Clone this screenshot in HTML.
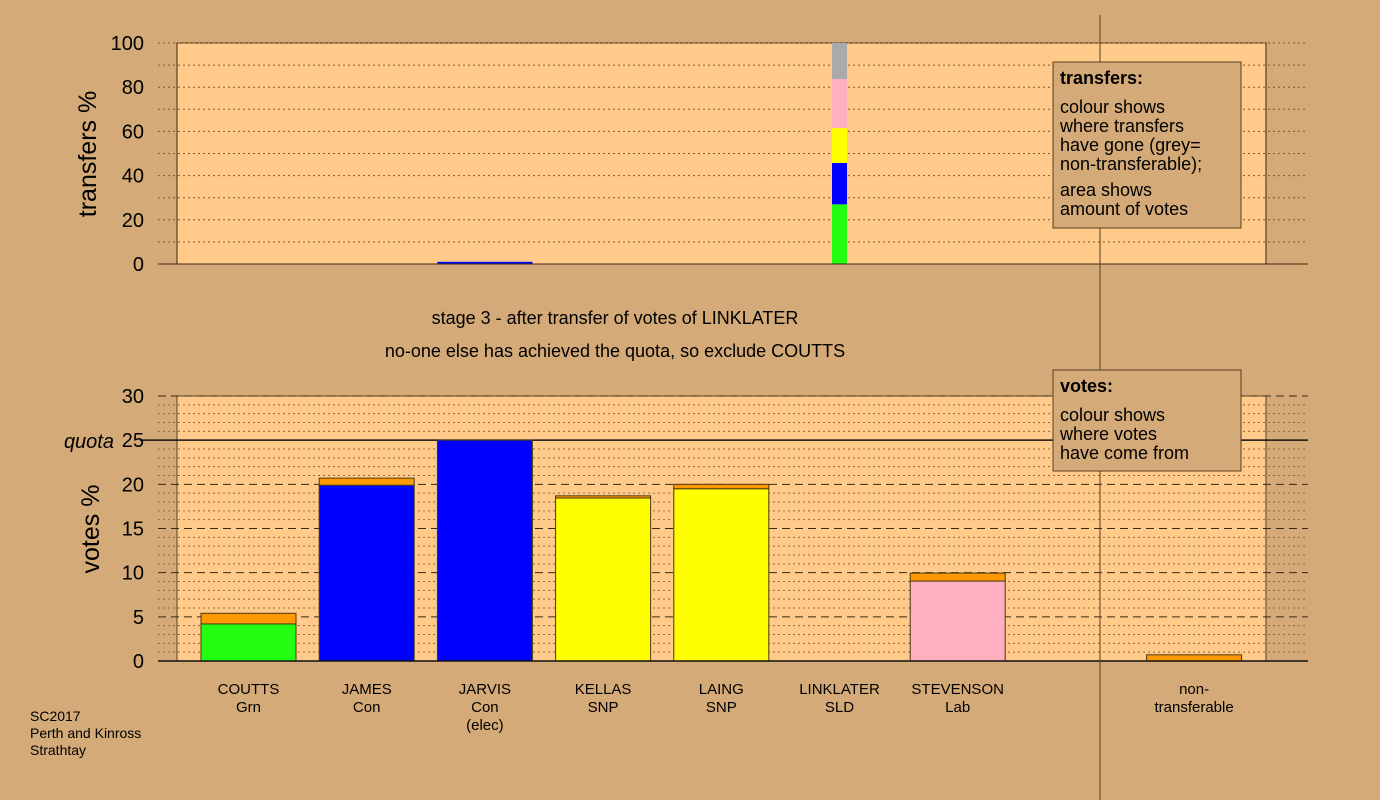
<!DOCTYPE html>
<html><head><meta charset="utf-8"><style>
html,body{margin:0;padding:0;background:#d4aa78;}
svg{display:block;font-family:"Liberation Sans",Arial,sans-serif;}
</style></head><body>
<svg id="c" width="1380" height="800" viewBox="0 0 1380 800">
<rect x="0" y="0" width="1380" height="800" fill="#d4aa78"/>
<g id="topg"></g>
<g id="botg"></g>
<line x1="1100" y1="15" x2="1100" y2="800" stroke="#5a4020" stroke-width="1"/>
<text x="615" y="324" font-size="18" text-anchor="middle">stage 3 - after transfer of votes of LINKLATER</text>
<text x="615" y="357" font-size="18" text-anchor="middle">no-one else has achieved the quota, so exclude COUTTS</text>
<text transform="translate(96,154) rotate(-90)" font-size="25" text-anchor="middle">transfers %</text>
<text transform="translate(99,529) rotate(-90)" font-size="25" text-anchor="middle">votes %</text>
<text x="114" y="448" font-size="20" font-style="italic" text-anchor="end">quota</text>
<g font-size="14">
<text x="30" y="721">SC2017</text><text x="30" y="738">Perth and Kinross</text><text x="30" y="755">Strathtay</text>
</g>
<g>
<rect x="1053" y="62" width="188" height="166" fill="#d4aa78" stroke="#5a4020"/>
<text x="1060" y="84" font-size="18" font-weight="bold">transfers:</text>
<g font-size="18"><text x="1060" y="113">colour shows</text><text x="1060" y="132">where transfers</text><text x="1060" y="151">have gone (grey=</text><text x="1060" y="170">non-transferable);</text><text x="1060" y="196">area shows</text><text x="1060" y="215">amount of votes</text></g>
</g>
<g>
<rect x="1053" y="370" width="188" height="101" fill="#d4aa78" stroke="#5a4020"/>
<text x="1060" y="392" font-size="18" font-weight="bold">votes:</text>
<g font-size="18"><text x="1060" y="421">colour shows</text><text x="1060" y="440">where votes</text><text x="1060" y="459">have come from</text></g>
</g>
</svg>
<script>
const categories=["COUTTS","JAMES","JARVIS","KELLAS","LAING","LINKLATER","STEVENSON","","non-transferable"];
const parties=["Grn","Con","Con\n(elec)","SNP","SNP","SLD","Lab","",""];
const baseColors=["#22ff11","#0000ff","#0000ff","#ffff00","#ffff00","#ff9900","#ffb0c0","",""];
const baseVotes=[4.2,19.9,25.0,18.45,19.5,0,9.05,0,0];
const transferredVotes=[1.2,0.8,0,0.25,0.5,0,0.9,0,0.7];
const votesTicks=[0,5,10,15,20,25,30];
const quota=25;
const transferTicks=[0,20,40,60,80,100];
const transferSegColors=["#22ff11","#0000ff","#ffff00","#ffb0c0","#aaaaaa"];
const transferSegValues=[27,18.7,15.8,22.2,16.3];
const jarvisTransfer=1;
const NS="http://www.w3.org/2000/svg";
function mk(p,t,a){const e=document.createElementNS(NS,t);for(const k in a)e.setAttribute(k,a[k]);p.appendChild(e);return e;}
const xC=i=>248.5+i*118.2, bw=95;
// bottom
const botG=document.getElementById('botg');
const yB=v=>661-v*(265/30);
mk(botG,'rect',{x:177,y:396,width:1089,height:265,fill:'#ffca8a',stroke:'#5a4020'});
for(let v=0;v<=30;v++){if(v%5==0)continue;mk(botG,'line',{x1:158,x2:1308,y1:yB(v),y2:yB(v),stroke:'#8a6a40','stroke-dasharray':'2,3','stroke-width':1});}
votesTicks.forEach(v=>{
 if(v!==0&&v!==quota){const l=mk(botG,'line',{x1:158,x2:1308,y1:yB(v),y2:yB(v),stroke:'#3a2a10','stroke-dasharray':'8,5'});
  
  }
 const t=mk(botG,'text',{x:144,y:yB(v)+7,'font-size':20,'text-anchor':'end'});t.textContent=v;
 
 
});
const ql=mk(botG,'line',{x1:140,x2:1308,y1:yB(quota),y2:yB(quota),stroke:'#111','stroke-width':1.5});


categories.forEach((c,i)=>{
 if(!c)return;
 const x=xC(i)-bw/2;
 if(baseVotes[i]>0){const r=mk(botG,'rect',{x:x,y:yB(baseVotes[i]),width:bw,height:yB(0)-yB(baseVotes[i]),fill:baseColors[i],stroke:'#4a3a10'});
  
  }
 if(transferredVotes[i]>0){const tot=baseVotes[i]+transferredVotes[i];const r=mk(botG,'rect',{x:x,y:yB(tot),width:bw,height:yB(baseVotes[i])-yB(tot),fill:'#ff9900',stroke:'#4a3a10'});
  
  }
 const lines=c==="non-transferable"?["non-","transferable"]:[c].concat(parties[i].split("\n"));
 lines.forEach((s,k)=>{const t=mk(botG,'text',{x:xC(i),y:694+k*18,'font-size':15,'text-anchor':'middle'});t.textContent=s;
  
  });
});
mk(botG,'line',{x1:158,x2:1308,y1:661,y2:661,stroke:'#111','stroke-width':1.5});
// top
const topG=document.getElementById('topg');
const yT=v=>264-v*2.21;
mk(topG,'rect',{x:177,y:43,width:1089,height:221,fill:'#ffca8a',stroke:'#3a2a10'});
for(let v=10;v<=100;v+=10){mk(topG,'line',{x1:158,x2:1308,y1:yT(v),y2:yT(v),stroke:'#7a5a30','stroke-dasharray':'2,3'});}
transferTicks.forEach(v=>{const t=mk(topG,'text',{x:144,y:yT(v)+7,'font-size':20,'text-anchor':'end'});t.textContent=v;
 
 });
let acc=0;
transferSegValues.forEach((v,k)=>{const r=mk(topG,'rect',{x:xC(5)-7.5,y:yT(acc+v),width:15,height:yT(acc)-yT(acc+v),fill:transferSegColors[k]});
 
 acc+=v;});
const jr=mk(topG,'rect',{x:xC(2)-bw/2,y:yT(jarvisTransfer),width:bw,height:yT(0)-yT(jarvisTransfer),fill:'#0000ff'});


mk(topG,'line',{x1:158,x2:1308,y1:264,y2:264,stroke:'#3a2a10','stroke-width':1});
</script>
</body></html>
